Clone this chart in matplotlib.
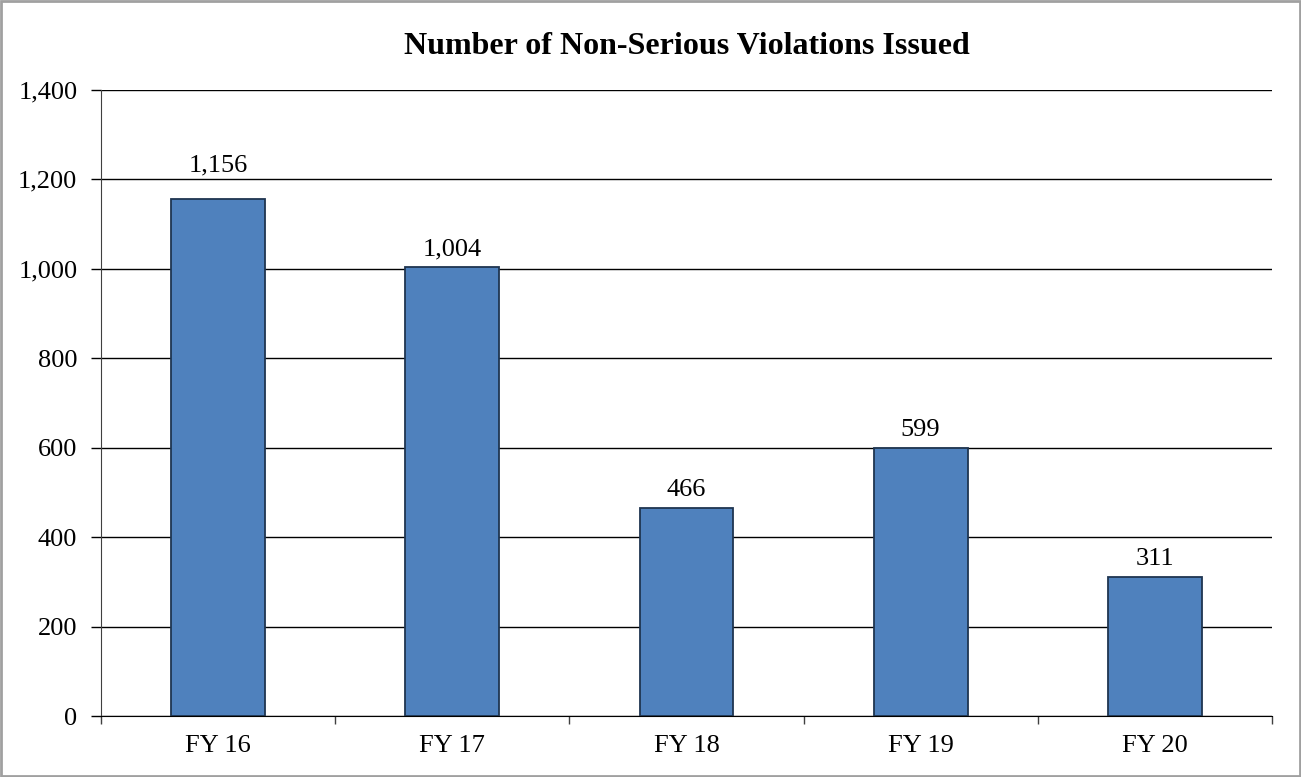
import matplotlib.pyplot as plt
from matplotlib.patches import Rectangle
from matplotlib.ticker import FuncFormatter, MultipleLocator

# Datos
categorias = ['FY 16', 'FY 17', 'FY 18', 'FY 19', 'FY 20']
violaciones = [1156, 1004, 466, 599, 311]

plt.rcParams['font.family'] = ['Liberation Serif', 'DejaVu Serif']

fig = plt.figure(figsize=(13.01, 7.77), dpi=100)
ax = fig.add_axes([0.0776, 0.0785, 0.9001, 0.8057])

x = range(len(categorias))
barras = ax.bar(x, violaciones, width=0.40, color='#4F81BD',
                edgecolor='#1F3550', linewidth=1.3, zorder=3)

# desplazamiento vertical de cada etiqueta (pt); la primera va sobre la linea de 1,200
desplazamientos = [16, 5, 5, 5, 5]
for xi, v, d in zip(x, violaciones, desplazamientos):
    ax.annotate(f'{v:,}', (xi, v), xytext=(0, d), textcoords='offset points',
                ha='center', va='bottom', fontsize=19, zorder=4)

ax.set_xlim(-0.5, len(categorias) - 0.5)
ax.set_ylim(0, 1400)
ax.yaxis.set_major_locator(MultipleLocator(200))
ax.yaxis.set_major_formatter(FuncFormatter(lambda v, p: f'{int(v):,}'))
ax.grid(axis='y', color='black', linewidth=1.0, zorder=0)

# ticks de categoria entre barras
ax.set_xticks([i - 0.5 for i in range(len(categorias) + 1)])
ax.set_xticklabels([])
ax.set_xticks(list(x), minor=True)
ax.set_xticklabels(categorias, minor=True, fontsize=19)
ax.tick_params(axis='x', which='minor', length=0, pad=14)
ax.tick_params(axis='x', which='major', length=6, direction='out', width=1.0, color='#404040')
ax.tick_params(axis='y', length=7, direction='out', width=1.0, labelsize=19, pad=10)

for lado in ['top', 'right']:
    ax.spines[lado].set_visible(False)
ax.spines['left'].set_color('#404040')
ax.spines['bottom'].set_color('black')

ax.set_title('Number of Non-Serious Violations Issued', fontsize=23,
             fontweight='bold', pad=26)

# borde de la figura
fig.patches.append(Rectangle((0.001, 0.001), 0.998, 0.998, transform=fig.transFigure,
                             fill=False, edgecolor='#A0A0A0', linewidth=2))

fig.savefig('out.png', dpi=100)
